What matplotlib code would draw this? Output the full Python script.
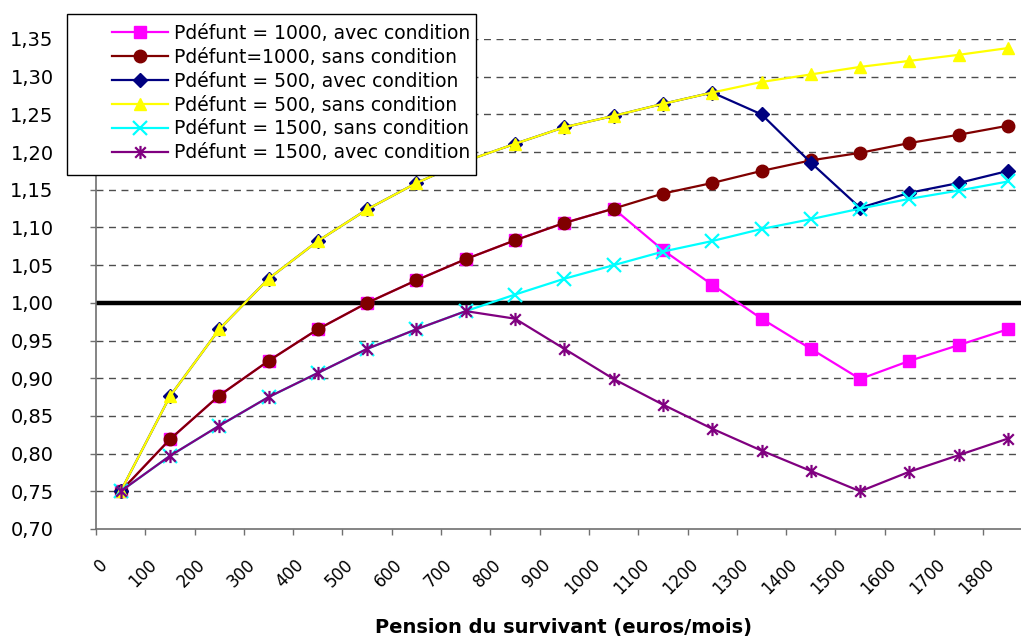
import matplotlib
matplotlib.use("Agg")
import matplotlib.pyplot as plt
from matplotlib.patches import Rectangle
from matplotlib.path import Path
from matplotlib.ticker import FixedLocator, FuncFormatter
import matplotlib.transforms as mtransforms

plt.rcParams['font.family'] = ['DejaVu Sans']

# Pension du survivant (euros/mois)
pensions = [0, 100, 200, 300, 400, 500, 600, 700, 800, 900,
            1000, 1100, 1200, 1300, 1400, 1500, 1600, 1700, 1800]

p1000_avec = [0.750, 0.819, 0.877, 0.923, 0.965, 1.000, 1.030, 1.058, 1.083, 1.106,
              1.125, 1.070, 1.024, 0.979, 0.939, 0.899, 0.923, 0.944, 0.965]
p1000_sans = [0.750, 0.819, 0.877, 0.923, 0.965, 1.000, 1.030, 1.058, 1.083, 1.106,
              1.125, 1.145, 1.159, 1.175, 1.189, 1.199, 1.212, 1.223, 1.235]
p500_avec = [0.750, 0.876, 0.965, 1.032, 1.082, 1.124, 1.159, 1.188, 1.211, 1.233,
             1.248, 1.264, 1.279, 1.250, 1.186, 1.126, 1.146, 1.159, 1.175]
p500_sans = [0.750, 0.876, 0.965, 1.032, 1.082, 1.124, 1.159, 1.188, 1.211, 1.233,
             1.248, 1.264, 1.279, 1.293, 1.303, 1.313, 1.321, 1.329, 1.338]
p1500_sans = [0.750, 0.797, 0.837, 0.875, 0.907, 0.939, 0.965, 0.989, 1.011, 1.032,
              1.050, 1.068, 1.082, 1.098, 1.111, 1.125, 1.138, 1.149, 1.161]
p1500_avec = [0.750, 0.797, 0.837, 0.875, 0.907, 0.939, 0.965, 0.989, 0.979, 0.939,
              0.899, 0.865, 0.833, 0.804, 0.777, 0.750, 0.776, 0.798, 0.820]

# Asterisk marker: an X crossed by a vertical bar
star = Path([(-1, -1), (1, 1), (-1, 1), (1, -1), (0, -1.25), (0, 1.25)],
            [Path.MOVETO, Path.LINETO, Path.MOVETO, Path.LINETO,
             Path.MOVETO, Path.LINETO])

series = [
    ("Pdéfunt = 1000, avec condition", p1000_avec, "#FF00FF", "s", 8.5),
    ("Pdéfunt=1000, sans condition", p1000_sans, "#800000", "o", 9.0),
    ("Pdéfunt = 500, avec condition", p500_avec, "#000080", "D", 7.0),
    ("Pdéfunt = 500, sans condition", p500_sans, "#FFFF00", "^", 9.0),
    ("Pdéfunt = 1500, sans condition", p1500_sans, "#00FFFF", "x", 9.5),
    ("Pdéfunt = 1500, avec condition", p1500_avec, "#800080", star, 9.5),
]

W, H = 1021, 639
DPI = 100
fig = plt.figure(figsize=(W / DPI, H / DPI), dpi=DPI)
fig.patch.set_facecolor("white")

n = len(pensions)
step = 49.3
left_px, bottom_px, top_px = 96, 529, 39
ax = fig.add_axes([left_px / W, (H - bottom_px) / H,
                   n * step / W, (bottom_px - top_px) / H])

xs = list(range(n))

# Gridlines and the reference line at 1
yticks = [0.70 + 0.05 * i for i in range(14)]
for y in yticks[1:]:
    ax.axhline(y, color="#4d4d4d", lw=1.0, ls=(0, (5, 4)), zorder=1)
ax.axhline(1.0, color="black", lw=3.2, zorder=2)

for label, vals, color, marker, ms in series:
    kw = dict(color=color, lw=1.6, marker=marker, markersize=ms,
              markerfacecolor=color, markeredgecolor=color, label=label, zorder=3)
    if not isinstance(marker, str) or marker == "x":
        kw["markeredgewidth"] = 1.6
    ax.plot(xs, vals, **kw)

ax.set_xlim(-0.5, n - 0.5)
ax.set_ylim(0.70, 1.35)

# Axes styling
for side in ("top", "right"):
    ax.spines[side].set_visible(False)
for side in ("left", "bottom"):
    ax.spines[side].set_color("#707070")
    ax.spines[side].set_linewidth(1.2)

ax.yaxis.set_major_locator(FixedLocator(yticks))
ax.yaxis.set_major_formatter(FuncFormatter(lambda v, p: f"{v:.2f}".replace(".", ",")))
ax.tick_params(axis="y", direction="out", length=4.5, width=1.0, color="#707070",
               labelsize=14, pad=26, labelcolor="black")

ax.xaxis.set_major_locator(FixedLocator([i - 0.5 for i in range(n + 1)]))
ax.xaxis.set_major_formatter(FuncFormatter(lambda v, p: ""))
ax.set_xticks(xs, [str(p) for p in pensions], minor=True)
ax.tick_params(axis="x", which="major", direction="out", length=4.5, width=1.0,
               color="#707070")
ax.tick_params(axis="x", which="minor", length=0, labelsize=12, pad=19)
offset = mtransforms.ScaledTranslation(-10 / DPI, 0, fig.dpi_scale_trans)
for lab in ax.get_xticklabels(minor=True):
    lab.set_rotation(45)
    lab.set_ha("right")
    lab.set_va("top")
    lab.set_transform(lab.get_transform() + offset)

fig.text(563 / W, 1 - 628 / H, "Pension du survivant (euros/mois)",
         ha="center", va="center", fontsize=14, fontweight="bold")

# Legend box
rect = Rectangle((67 / W, 1 - 175 / H), (476 - 67) / W, (175 - 14) / H,
                 transform=fig.transFigure, facecolor="white",
                 edgecolor="black", lw=1.0, zorder=4)
fig.add_artist(rect)
handles, labels = ax.get_legend_handles_labels()
fs = 13.5
leg = fig.legend(handles, labels, loc="upper left",
                 bbox_to_anchor=(112 / W, 1 - 24 / H), frameon=False,
                 fontsize=fs, handlelength=3.0, handletextpad=0.3,
                 labelspacing=0.26, borderpad=0, borderaxespad=0, numpoints=1)
leg.set_zorder(5)

fig.savefig("out.png", dpi=DPI, facecolor="white")
